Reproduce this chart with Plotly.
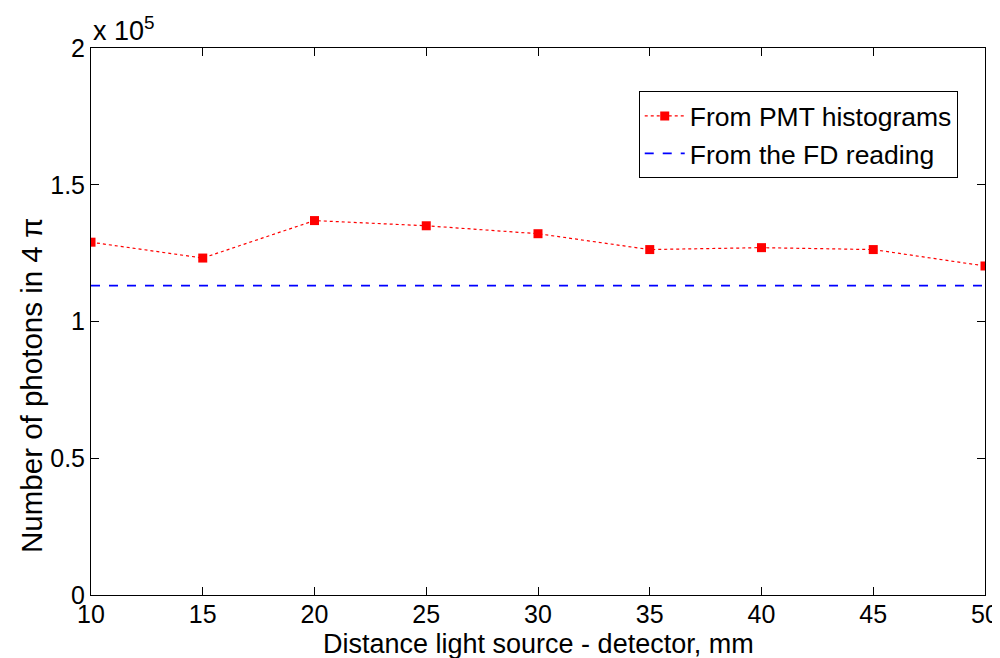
import plotly.graph_objects as go

distance_mm = [10, 15, 20, 25, 30, 35, 40, 45, 50]
pmt_photons = [129000, 123200, 136900, 135000, 132100, 126300, 127000, 126300, 120300]
fd_photons = [113100] * len(distance_mm)

y_tickvals = [0, 50000, 100000, 150000, 200000]
y_ticktext = ["0", "0.5", "1", "1.5", "2"]
x_tickvals = [10, 15, 20, 25, 30, 35, 40, 45, 50]

FONT = "Liberation Sans, Arial, sans-serif"

fig = go.Figure()
fig.add_trace(go.Scatter(
    x=distance_mm, y=pmt_photons, name="From PMT histograms",
    mode="lines+markers",
    line=dict(color="#ff0000", width=1.2, dash="dot"),
    marker=dict(symbol="square", size=9, color="#ff0000"),
))
fig.add_trace(go.Scatter(
    x=distance_mm, y=fd_photons, name="From the FD reading",
    mode="lines",
    line=dict(color="#0000ff", width=1.6, dash="dash"),
))

axis_common = dict(
    showgrid=False, zeroline=False, showline=True, linecolor="black", linewidth=1,
    mirror="ticks", ticks="inside", ticklen=8, tickcolor="black", automargin=False,
    tickfont=dict(family=FONT, size=25, color="black"),
)
fig.update_xaxes(range=[10, 50], tickvals=x_tickvals, ticklabelstandoff=-3, **axis_common)
fig.update_yaxes(range=[0, 200000], tickvals=y_tickvals, ticktext=y_ticktext, **axis_common)

# page body adds ~8px offset; margins compensate so the plot area lands at the reference spot
fig.update_layout(
    width=1000, height=658,
    margin=dict(l=83, r=23, t=40, b=71, autoexpand=False),
    paper_bgcolor="white", plot_bgcolor="white",
    showlegend=True,
    legend=dict(
        x=0.9695, y=0.921, xanchor="right", yanchor="top",
        bgcolor="white", bordercolor="black", borderwidth=1,
        font=dict(family=FONT, size=26.5, color="black"),
        tracegroupgap=0, itemwidth=40,
    ),
    annotations=[
        dict(text="Distance light source - detector, mm", xref="paper", yref="paper",
             x=0.5, y=-0.089, xanchor="center", yanchor="middle", showarrow=False,
             font=dict(family=FONT, size=27, color="black")),
        dict(text="Number of photons in 4 π", xref="paper", yref="paper",
             x=-0.066, y=0.384, xanchor="center", yanchor="middle", showarrow=False,
             textangle=-90, font=dict(family=FONT, size=29.5, color="black")),
        dict(text="x 10<sup>5</sup>", xref="paper", yref="paper",
             x=0, y=1.0, xanchor="left", yanchor="bottom", showarrow=False,
             font=dict(family=FONT, size=27, color="black")),
    ],
)

fig.write_html("out.html")
